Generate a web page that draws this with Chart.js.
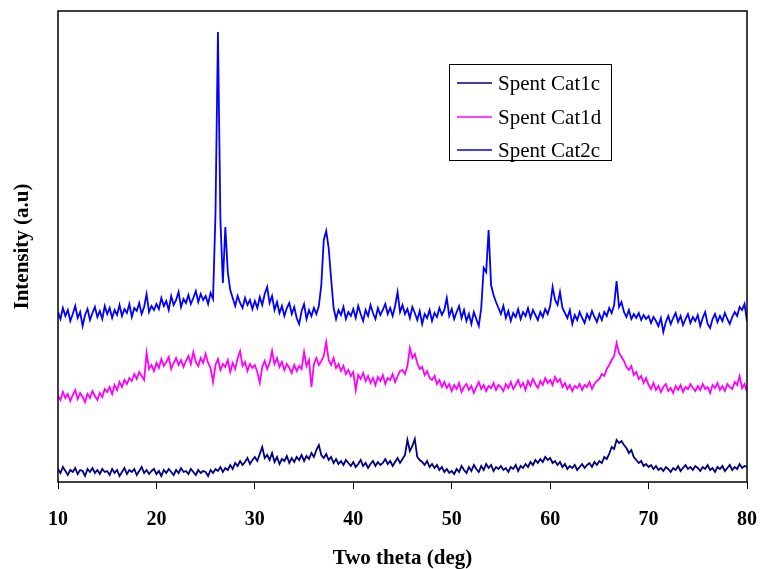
<!DOCTYPE html>
<html>
<head>
<meta charset="utf-8">
<script src="https://cdn.jsdelivr.net/npm/chart.js@4"></script>
<style>
  body { margin: 0; background: #fff; }
  #wrap { width: 760px; height: 569px; }
</style>
</head>
<body>
<div id="wrap"><canvas id="graficoXRD" width="760" height="569"></canvas></div>
<script>
// 2 theta (deg), step 0.25
const theta = [
  10,10.25,10.5,10.75,11,11.25,11.5,11.75,12,12.25,12.5,12.75,13,13.25,13.5,13.75,14,14.25,14.5,14.75,
  15,15.25,15.5,15.75,16,16.25,16.5,16.75,17,17.25,17.5,17.75,18,18.25,18.5,18.75,19,19.25,19.5,19.75,
  20,20.25,20.5,20.75,21,21.25,21.5,21.75,22,22.25,22.5,22.75,23,23.25,23.5,23.75,24,24.25,24.5,24.75,
  25,25.25,25.5,25.75,26,26.25,26.5,26.75,27,27.25,27.5,27.75,28,28.25,28.5,28.75,29,29.25,29.5,29.75,
  30,30.25,30.5,30.75,31,31.25,31.5,31.75,32,32.25,32.5,32.75,33,33.25,33.5,33.75,34,34.25,34.5,34.75,
  35,35.25,35.5,35.75,36,36.25,36.5,36.75,37,37.25,37.5,37.75,38,38.25,38.5,38.75,39,39.25,39.5,39.75,
  40,40.25,40.5,40.75,41,41.25,41.5,41.75,42,42.25,42.5,42.75,43,43.25,43.5,43.75,44,44.25,44.5,44.75,
  45,45.25,45.5,45.75,46,46.25,46.5,46.75,47,47.25,47.5,47.75,48,48.25,48.5,48.75,49,49.25,49.5,49.75,
  50,50.25,50.5,50.75,51,51.25,51.5,51.75,52,52.25,52.5,52.75,53,53.25,53.5,53.75,54,54.25,54.5,54.75,
  55,55.25,55.5,55.75,56,56.25,56.5,56.75,57,57.25,57.5,57.75,58,58.25,58.5,58.75,59,59.25,59.5,59.75,
  60,60.25,60.5,60.75,61,61.25,61.5,61.75,62,62.25,62.5,62.75,63,63.25,63.5,63.75,64,64.25,64.5,64.75,
  65,65.25,65.5,65.75,66,66.25,66.5,66.75,67,67.25,67.5,67.75,68,68.25,68.5,68.75,69,69.25,69.5,69.75,
  70,70.25,70.5,70.75,71,71.25,71.5,71.75,72,72.25,72.5,72.75,73,73.25,73.5,73.75,74,74.25,74.5,74.75,
  75,75.25,75.5,75.75,76,76.25,76.5,76.75,77,77.25,77.5,77.75,78,78.25,78.5,78.75,79,79.25,79.5,79.75,
  80
];

// intensidades (a.u)
const cat1c = [
  15,11,17,13,9,14,12,16,10,14,13,8,15,12,16,11,14,10,15,12,
  13,9,15,11,14,8,12,16,10,14,12,15,9,13,17,11,14,10,13,15,
  10,13,8,14,11,15,12,9,14,11,16,12,13,10,15,12,9,14,11,13,
  12,8,14,11,15,13,17,12,16,14,19,15,21,18,23,19,22,26,20,24,
  27,23,30,37,26,29,24,31,22,27,20,25,23,28,21,26,22,27,24,29,
  23,28,25,31,27,34,39,29,26,30,24,27,21,25,20,23,19,24,21,18,
  22,17,20,24,18,21,16,20,23,18,22,19,21,25,20,23,18,22,26,21,
  25,29,44,33,38,45,27,24,22,19,23,17,20,16,19,14,17,12,15,11,
  13,10,15,12,18,14,11,17,13,19,15,12,18,14,20,16,19,13,17,15,
  18,14,16,12,17,15,19,13,18,16,20,17,22,19,24,21,25,22,27,24,
  26,21,23,19,22,17,20,15,18,16,19,14,17,20,16,19,21,17,22,19,
  23,21,27,25,30,37,35,44,41,43,39,36,31,34,27,24,21,23,18,20,
  17,19,15,18,14,16,13,17,15,12,16,14,18,13,16,19,15,17,14,18,
  16,13,17,15,19,14,16,12,17,15,18,13,16,19,14,17,15,20,16,18,
  17
];

const cat1d = [
  88,84,92,86,90,83,89,94,85,91,87,82,90,86,93,88,84,91,87,95,
  92,97,90,99,94,102,97,104,100,106,103,110,105,112,108,104,131,115,119,113,
  121,116,125,118,122,127,115,121,126,119,124,117,123,128,120,132,122,118,126,121,
  130,121,116,102,119,125,114,120,117,124,112,121,115,126,133,118,122,113,120,116,
  119,112,101,117,123,115,121,133,120,126,117,122,114,120,116,111,119,113,118,115,
  132,118,124,97,120,126,119,123,128,142,124,119,126,116,120,113,118,110,114,108,
  112,94,109,105,111,103,108,101,106,99,107,103,109,100,106,104,110,102,108,113,
  114,110,118,136,126,130,121,115,117,109,113,106,104,108,100,104,97,102,96,100,
  93,99,95,101,92,97,100,94,98,91,97,102,95,99,93,98,96,101,94,99,
  97,93,100,96,102,95,99,104,97,101,94,103,98,105,100,96,103,99,106,101,
  104,99,107,102,105,97,101,95,99,93,98,96,100,94,99,97,102,95,100,103,
  105,110,108,115,119,124,128,141,131,127,123,117,114,118,109,112,105,108,101,106,
  99,95,101,94,98,92,97,100,93,96,91,98,94,99,92,97,95,100,96,93,
  98,94,100,95,97,91,99,96,101,94,98,93,100,97,95,102,99,108,96,100,
  92
];

const cat2c = [
  172,165,176,168,174,163,170,178,166,172,158,169,175,164,171,177,167,173,165,178,
  170,176,166,174,169,179,168,175,171,180,167,176,173,181,170,177,190,172,178,174,
  180,175,186,178,183,174,188,179,184,192,177,185,181,189,180,186,193,182,190,184,
  188,180,191,185,270,452,264,201,257,212,194,186,178,188,181,176,186,179,184,175,
  183,176,187,179,190,197,181,188,174,182,171,178,168,176,181,170,177,166,160,173,
  180,165,174,168,176,170,178,199,244,253,236,205,176,165,174,169,177,165,172,168,
  175,166,178,170,163,174,168,179,171,165,176,169,174,180,170,176,168,178,192,172,
  179,170,175,166,177,171,164,173,160,170,166,174,163,171,167,176,169,174,186,168,
  175,165,172,178,166,174,163,170,160,172,165,158,176,216,212,254,199,189,182,176,
  170,178,166,173,163,171,167,175,165,172,168,176,166,174,169,164,172,167,175,170,
  178,197,184,179,192,176,171,166,174,160,169,164,172,166,161,170,165,173,167,162,
  170,164,172,168,176,171,179,203,177,182,172,167,174,165,170,166,171,164,169,165,
  168,161,167,163,158,166,152,162,168,160,166,171,162,168,159,165,170,161,167,163,
  169,158,166,172,160,156,165,170,162,168,163,171,165,160,167,172,168,177,174,180,
  163
];

const etiquetasX = [10, 20, 30, 40, 50, 60, 70, 80];

const series = [
  { label: "Spent Cat1c", valores: cat1c, color: "#000080" },
  { label: "Spent Cat1d", valores: cat1d, color: "#FF00FF" },
  { label: "Spent Cat2c", valores: cat2c, color: "#0000FF" },
];

Chart.defaults.font.family = "'Liberation Serif', 'Times New Roman', serif";
Chart.defaults.color = "#000";

// marco del area del grafico
const marco = {
  id: "marco",
  afterDraw(chart) {
    const { ctx, chartArea: a } = chart;
    ctx.save();
    ctx.strokeStyle = "#000";
    ctx.lineWidth = 1.5;
    ctx.strokeRect(a.left, a.top, a.right - a.left, a.bottom - a.top);
    ctx.restore();
  },
};

// leyenda con recuadro dentro del grafico
const leyenda = {
  id: "leyenda",
  afterDraw(chart) {
    const ctx = chart.ctx;
    ctx.save();
    ctx.fillStyle = "#fff";
    ctx.fillRect(449, 64, 162, 96);
    ctx.strokeStyle = "#000";
    ctx.lineWidth = 1;
    ctx.strokeRect(449.5, 64.5, 162, 96);
    const filas = [83, 117, 150];
    ctx.font = "21px 'Liberation Serif'";
    ctx.textBaseline = "middle";
    chart.data.datasets.forEach((ds, i) => {
      ctx.strokeStyle = ds.borderColor;
      ctx.lineWidth = 1.5;
      ctx.beginPath();
      ctx.moveTo(457, filas[i]);
      ctx.lineTo(492, filas[i]);
      ctx.stroke();
      ctx.fillStyle = "#000";
      ctx.fillText(ds.label, 498, filas[i] + 1);
    });
    ctx.restore();
  },
};

const ctx = document.getElementById("graficoXRD").getContext("2d");
const graficoXRD = new Chart(ctx, {
  type: "line",
  data: {
    datasets: series.map((s) => ({
      label: s.label,
      data: s.valores.map((v, i) => ({ x: theta[i], y: v })),
      borderColor: s.color,
      backgroundColor: "transparent",
      borderWidth: 1.8,
      pointRadius: 0,
      tension: 0,
    })),
  },
  options: {
    responsive: false,
    animation: false,
    layout: { padding: { top: 11, right: 13, left: 0, bottom: 0 } },
    plugins: {
      legend: { display: false },
      tooltip: { enabled: false },
    },
    scales: {
      x: {
        type: "linear",
        min: 10,
        max: 80,
        afterBuildTicks: (s) => {
          s.ticks = etiquetasX.map((v) => ({ value: v }));
        },
        afterFit: (s) => {
          s.height = 87;
          s.paddingLeft = 0;
          s.paddingRight = 0;
        },
        grid: { drawOnChartArea: false, tickLength: 7, color: "#000", lineWidth: 1 },
        border: { display: false },
        ticks: {
          padding: 19,
          font: { size: 20, weight: "bold" },
        },
        title: {
          display: true,
          text: "Two theta (deg)",
          font: { size: 21, weight: "bold" },
          padding: { top: 0, bottom: -2 },
        },
      },
      y: {
        min: 2,
        max: 473,
        afterFit: (s) => {
          s.width = 58;
        },
        grid: { display: false },
        border: { display: false },
        ticks: { display: false },
        title: {
          display: true,
          text: "Intensity (a.u)",
          font: { size: 21, weight: "bold" },
          padding: { top: 10, bottom: 0 },
        },
      },
    },
  },
  plugins: [marco, leyenda],
});
</script>
</body>
</html>
